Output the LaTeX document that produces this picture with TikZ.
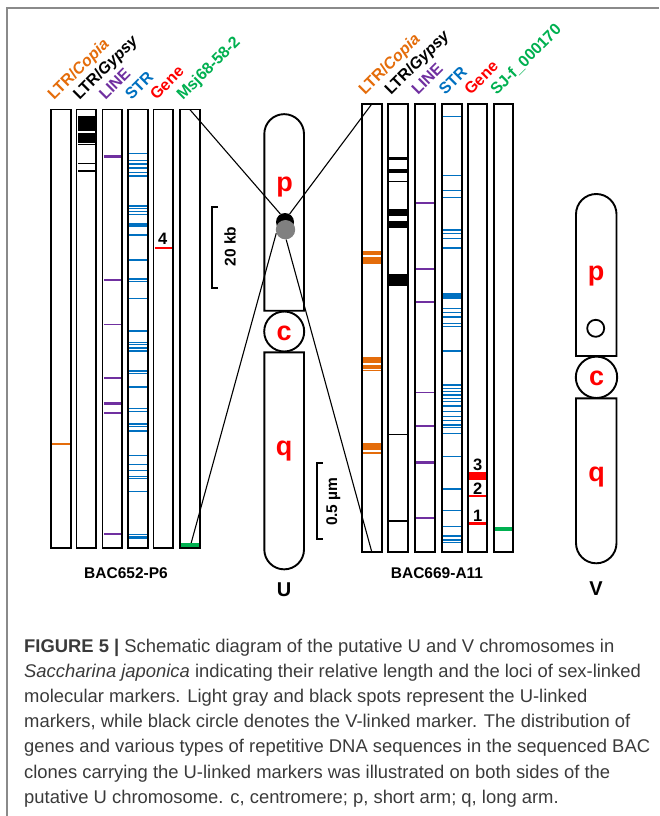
\documentclass[tikz,border=0pt]{standalone}
\usepackage{fontspec}
\setmainfont{Liberation Sans}
\pgfdeclarelayer{links}
\pgfsetlayers{links,main}

\definecolor{copiaor}{HTML}{E46C0A}
\definecolor{linepu}{HTML}{7030A0}
\definecolor{strbl}{HTML}{0070C0}
\definecolor{genere}{HTML}{FF0000}
\definecolor{markgr}{HTML}{00B050}
\definecolor{captext}{HTML}{3A3A3A}
\definecolor{framegr}{HTML}{8A8A8A}
\definecolor{spotgr}{HTML}{808080}

% horizontal bands inside one BAC track: list of centre/thickness
\newcommand\trackbands[3]{%
  \foreach \yy/\ww in {#3}{\fill[#2] (#1+1,\yy-\ww/2) rectangle (#1+18.6,\yy+\ww/2);}}

\begin{document}
\begin{tikzpicture}[x=1pt,y=-1pt,
  bac/.style={draw, line width=1.9pt, minimum width=19.6pt, inner sep=0pt, outer sep=0pt, anchor=north west},
  hdr/.style={rotate=45, anchor=base west, inner sep=0pt, font=\fontsize{16}{17}\selectfont\bfseries},
  chrom/.style={draw, line width=1.9pt},
  arm/.style={text=genere, anchor=base, inner sep=0pt, font=\fontsize{27}{27}\selectfont\bfseries},
  chname/.style={anchor=base, inner sep=0pt, font=\fontsize{20}{20}\selectfont\bfseries},
  bacname/.style={anchor=base, inner sep=0pt, font=\fontsize{15.5}{16}\selectfont\bfseries},
  genenum/.style={inner sep=0pt, font=\fontsize{16.5}{17}\selectfont\bfseries},
  scalelbl/.style={rotate=90, inner sep=0pt, font=\fontsize{15.5}{16}\selectfont\bfseries},
  link/.style={line width=1.1pt},
  scalebar/.style={line width=1.9pt},
  spot/.style={circle, inner sep=0pt, minimum size=#1},
  captionline/.style={anchor=base west, inner sep=0pt, text=captext, font=\fontsize{18.4}{25}\selectfont}]

\useasboundingbox (0,0) rectangle (659,816);

% frame of the figure panel
\draw[framegr, line width=1.3pt] (7,816) -- (7,8) -- (659,8);

% ---------------- BAC652-P6 ----------------
\foreach \n/\x in {1/51,2/76.5,3/102.5,4/128.3,5/153.5,6/180}
  \node[bac, minimum height=438.5pt] (L\n) at (\x,109.5) {};

\trackbands{51}{copiaor}{444/1.8}
\trackbands{76.5}{black}{123.5/15,137.75/9.5,144.5/1.6,163.3/1.6,170.7/1.6}
\trackbands{102.5}{linepu}{156/3,280/1.7,324.3/1.6,377.7/2.2,403.7/3.5,413/1.6,534/1.6}
\trackbands{128.3}{strbl}{153.3/1.5,160.7/1.5,164/1.5,168/1.5,172.3/1.5,176/2.2,
  206/1.5,208.7/1.5,211.7/1.5,214.7/1.5,225.3/4,235/1.5,260/1.5,279/1.5,281.5/1.5,298.7/1.5,
  331/1.5,342.3/1.5,344.3/1.5,347.7/1.7,351/1.7,370.7/1.7,373.5/1.5,386.7/1.7,408.3/1.5,
  411.7/1.5,424.3/1.7,426.5/1.5,430.7/1.7,455.7/1.5,464.3/1.5,470.3/1.5,476.7/1.5,478.3/1.5,
  491.7/1.5,534.3/1.5,536.7/1.7,538.5/1.5}
\trackbands{153.5}{genere}{247.7/1.8}
\trackbands{180}{markgr}{545/4}
\node[genenum] (g4) at (162.7,238.7) {4};

\node[hdr, text=copiaor] (hL1) at (54,101) {LTR/\textit{Copia}};
\node[hdr] (hL2) at (79.5,101) {LTR/\textit{Gypsy}};
\node[hdr, text=linepu] (hL3) at (105.5,101) {LINE};
\node[hdr, text=strbl] (hL4) at (131.5,101) {STR};
\node[hdr, text=genere] (hL5) at (156.5,101) {Gene};
\node[hdr, text=markgr] (hL6) at (183,101) {Msj68-58-2};
\node[bacname] (bacL) at (126,578) {BAC652-P6};

% ---------------- BAC669-A11 ----------------
\foreach \n/\x in {1/362,2/388,3/415,4/442.3,5/467.8,6/493.7}
  \node[bac, minimum height=448pt] (R\n) at (\x,104) {};

\trackbands{362}{copiaor}{253/4,260.5/7,360/6.6,367/4,370.7/1.2,446.6/6.7,452.7/2}
\trackbands{388}{black}{158/3,171/4,181.3/1.6,212.25/6.5,224.25/6.5,280/12,434.3/1.6,521/1.6}
\trackbands{415}{linepu}{202.7/1.6,268.7/2.2,301.7/1.6,392.3/1.6,425.7/1.6,462.3/3,517.7/1.6}
\trackbands{442.3}{strbl}{116.7/1.5,175.7/1.5,190.7/1.5,197.3/1.5,230/1.5,233.3/1.5,238.7/1.5,
  247.7/2.2,296.2/5.7,308.3/1.5,312.5/1.5,317/1.5,323.3/1.5,326.7/1.5,351/1.5,385/1.5,388.3/1.5,
  391.7/1.5,395/1.5,398.3/1.5,401.7/1.5,406/1.5,411.7/1.5,416.7/1.5,420.7/1.5,425/2.2,427.3/1.5,
  433.3/1.5,456.7/1.5,489/1.5,510.7/1.5,526.7/1.5,536/1.5,540/1.5,542.7/1.5}
\trackbands{467.8}{genere}{476.2/7.7,495.7/2.2,523.3/2.6}
\trackbands{493.7}{markgr}{529/3.2}
\node[genenum] (g3) at (477.7,464.5) {3};
\node[genenum] (g2) at (477.7,489) {2};
\node[genenum] (g1) at (477.7,515.5) {1};

\node[hdr, text=copiaor] (hR1) at (365,96) {LTR/\textit{Copia}};
\node[hdr] (hR2) at (391,96) {LTR/\textit{Gypsy}};
\node[hdr, text=linepu] (hR3) at (418,96) {LINE};
\node[hdr, text=strbl] (hR4) at (445.3,96) {STR};
\node[hdr, text=genere] (hR5) at (470.8,96) {Gene};
\node[hdr, text=markgr] (hR6) at (496.7,96) {SJ-f\_000170};
\node[bacname] (bacR) at (437,578) {BAC669-A11};

% ---------------- U chromosome ----------------
\draw[chrom] (264.3,310.7) -- (264.3,134) arc[start angle=180, end angle=360, radius=19.85]
  -- (304,310.7) -- cycle;
\draw[chrom] (264.3,352.3) -- (264.3,549.5) arc[start angle=180, end angle=0, radius=19.85]
  -- (304,352.3) -- cycle;
\node[circle, draw, line width=1.9pt, minimum size=40pt, inner sep=0pt] (Ucen) at (284.2,331.5) {};
\node[arm] (Up) at (284.5,191.7) {p};
\node[arm] (Uc) at (284.2,340) {c};
\node[arm] (Uq) at (284.2,455) {q};
\node[chname] (Ulbl) at (284,596.5) {U};

\node[spot=18pt, fill=black] (blk) at (285,222) {};
\node[spot=19.4pt, fill=spotgr] (gry) at (285.5,229.7) {};

\begin{pgfonlayer}{links}
\draw[link] (L6.north) -- (blk.120);
\draw[link] (R1.north) -- (blk.60);
\draw[link] (L6.south) -- (gry.201);
\draw[link] (R1.south) -- (gry.274);
\end{pgfonlayer}

% scale bars
\draw[scalebar] (218,207.3) -- (212.3,207.3) -- (212.3,288.3) -- (218,288.3);
\node[scalelbl] (kb) at (230,246.7) {20 kb};
\draw[scalebar] (322.7,462.7) -- (316.7,462.7) -- (316.7,539) -- (322.7,539);
\node[scalelbl] (um) at (333.3,501.7) {0.5 µm};

% ---------------- V chromosome ----------------
\draw[chrom] (576,356) -- (576,214.25) arc[start angle=180, end angle=360, radius=20.25]
  -- (616.5,356) -- cycle;
\draw[chrom] (576,398.3) -- (576,543.05) arc[start angle=180, end angle=0, radius=20.25]
  -- (616.5,398.3) -- cycle;
\node[circle, draw, line width=1.9pt, minimum size=41.4pt, inner sep=0pt] (Vcen) at (596.5,377.3) {};
\node[circle, draw, line width=1.8pt, minimum size=17pt, inner sep=0pt] (Vmark) at (595.7,328.3) {};
\node[arm] (Vp) at (596,280) {p};
\node[arm] (Vc) at (596.5,385) {c};
\node[arm] (Vq) at (596.5,481.7) {q};
\node[chname] (Vlbl) at (596,595) {V};

% ---------------- caption ----------------
\node[captionline] (c1) at (24,652) {\textbf{FIGURE 5 |} Schematic diagram of the putative U and V chromosomes in};
\node[captionline] (c2) at (24,677.2) {\textit{Saccharina japonica} indicating their relative length and the loci of sex-linked};
\node[captionline] (c3) at (24,702.4) {molecular markers. Light gray and black spots represent the U-linked};
\node[captionline] (c4) at (24,727.6) {markers, while black circle denotes the V-linked marker. The distribution of};
\node[captionline] (c5) at (24,752.8) {genes and various types of repetitive DNA sequences in the sequenced BAC};
\node[captionline] (c6) at (24,778) {clones carrying the U-linked markers was illustrated on both sides of the};
\node[captionline] (c7) at (24,803.2) {putative U chromosome. c, centromere; p, short arm; q, long arm.};
\end{tikzpicture}
\end{document}
